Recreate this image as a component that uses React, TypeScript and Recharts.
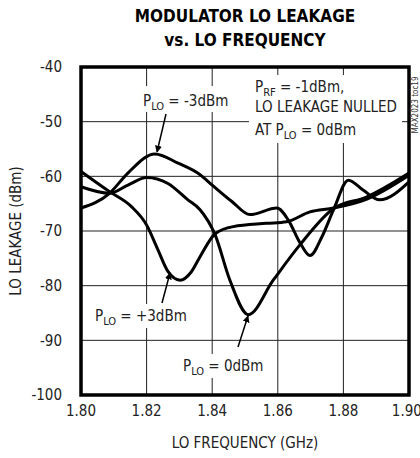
import React from 'react';
import { CartesianGrid, Line, LineChart, ReferenceArea, XAxis, YAxis } from 'recharts';

const xTicks = [1.8, 1.82, 1.84, 1.86, 1.88, 1.9];
const yTicks = [-100, -90, -80, -70, -60, -50, -40];

const minus3Freq = [1.8, 1.8087, 1.8143, 1.8225, 1.8296, 1.8363, 1.84, 1.846, 1.8515, 1.8597, 1.8632, 1.8668, 1.8698, 1.8735, 1.877, 1.8815, 1.886, 1.891, 1.9];
const minus3Leak = [-65.8, -63.1, -59.4, -55.9, -57.6, -59.7, -61.6, -64.6, -67, -65.8, -68, -72.2, -74.5, -71, -66.1, -60.7, -62.5, -64.3, -61];

const zeroFreq = [1.8, 1.8087, 1.8143, 1.82, 1.8265, 1.8326, 1.8363, 1.8409, 1.8454, 1.851, 1.8586, 1.8668, 1.877, 1.887, 1.9];
const zeroLeak = [-61.9, -63.1, -61.6, -60.2, -61.3, -64.3, -66.1, -70.7, -79, -85.3, -79, -72.5, -65.9, -63.8, -59.4];

const plus3Freq = [1.8, 1.8087, 1.8153, 1.82, 1.8235, 1.8265, 1.8302, 1.8336, 1.8363, 1.8409, 1.8464, 1.8566, 1.8627, 1.8698, 1.877, 1.887, 1.9];
const plus3Leak = [-59.1, -62.8, -65.5, -68.9, -73.5, -77.4, -79, -77.5, -74.7, -70.5, -69.2, -68.6, -68.3, -66.5, -65.8, -64.2, -59.8];

const toPoints = (xs: number[], ys: number[]) => xs.map((f, i) => ({ f, v: ys[i] }));

const font = '"Liberation Sans Narrow", "DejaVu Sans Condensed", "Liberation Sans", sans-serif';

function Sub({ main, sub, rest, x, y }: { main: string; sub: string; rest: string; x: number; y: number }) {
  return (
    <text x={x} y={y} fontSize={15} fill="#222" fontFamily={font}>
      {main}
      <tspan fontSize={11} dy={4}>{sub}</tspan>
      <tspan dy={-4}>{rest}</tspan>
    </text>
  );
}

export default function App() {
  return (
    <div style={{ position: 'absolute', left: 0, top: 0, width: 420, height: 458, background: '#fff', fontFamily: font }}>
      <LineChart width={420} height={458} margin={{ top: 67, right: 11, bottom: 0, left: 0 }}>
        <CartesianGrid stroke="#222" strokeWidth={1} />
        <XAxis
          dataKey="f"
          type="number"
          domain={[1.8, 1.9]}
          ticks={xTicks}
          height={63}
          allowDuplicatedCategory={false}
          tickFormatter={(v: number) => v.toFixed(2)}
          tickLine={false}
          axisLine={false}
          tickSize={0}
          tickMargin={10}
          tick={{ fontSize: 15, fill: '#222', fontFamily: font }}
          label={{ value: 'LO FREQUENCY (GHz)', position: 'insideBottom', offset: 10, fontSize: 15, fill: '#222', fontFamily: font }}
        />
        <YAxis
          type="number"
          domain={[-100, -40]}
          ticks={yTicks}
          width={81}
          tickLine={false}
          axisLine={false}
          tickSize={0}
          tickMargin={19}
          tick={{ fontSize: 15, fill: '#222', fontFamily: font }}
          label={{ value: 'LO LEAKAGE (dBm)', angle: -90, position: 'insideLeft', offset: 16, fontSize: 15, fill: '#222', fontFamily: font, style: { textAnchor: 'middle' } }}
        />
        <ReferenceArea x1={1.8} x2={1.9} y1={-100} y2={-40} fill="none" stroke="#000" strokeWidth={3.5} ifOverflow="visible" />
        <Line data={toPoints(minus3Freq, minus3Leak)} dataKey="v" type="monotone" stroke="#000" strokeWidth={3} dot={false} isAnimationActive={false} />
        <Line data={toPoints(zeroFreq, zeroLeak)} dataKey="v" type="monotone" stroke="#000" strokeWidth={3} dot={false} isAnimationActive={false} />
        <Line data={toPoints(plus3Freq, plus3Leak)} dataKey="v" type="monotone" stroke="#000" strokeWidth={3} dot={false} isAnimationActive={false} />
      </LineChart>
      <svg width={420} height={458} style={{ position: 'absolute', left: 0, top: 0, pointerEvents: 'none' }}>
        <defs>
          <marker id="arr" viewBox="0 0 10 10" refX="9" refY="5" markerWidth="7" markerHeight="9" orient="auto-start-reverse" markerUnits="userSpaceOnUse">
            <path d="M0,0 L10,5 L0,10 z" fill="#000" />
          </marker>
        </defs>
        <text x={245} y={22} textAnchor="middle" fontSize={17} fontWeight="bold" fontFamily={font} fill="#000">MODULATOR LO LEAKAGE</text>
        <text x={245} y={46} textAnchor="middle" fontSize={17} fontWeight="bold" fontFamily={font} fill="#000">vs. LO FREQUENCY</text>
        <text x={418} y={105} textAnchor="middle" fontSize={8} fill="#333" fontFamily={font} transform="rotate(-90 418 105)">MAX2023 toc19</text>

        <rect x={249} y={75} width={153} height={68} fill="#fff" />
        <Sub x={255} y={92} main="P" sub="RF" rest=" = -1dBm," />
        <text x={255} y={112} fontSize={15} fill="#222" fontFamily={font}>LO LEAKAGE NULLED</text>
        <Sub x={255} y={135} main="AT P" sub="LO" rest=" = 0dBm" />

        <rect x={140} y={86} width={90} height={26} fill="#fff" />
        <Sub x={143} y={106} main="P" sub="LO" rest=" = -3dBm" />
        <line x1={166} y1={114} x2={157} y2={152} stroke="#000" strokeWidth={1.5} markerEnd="url(#arr)" />

        <rect x={93} y={304} width={90} height={24} fill="#fff" />
        <Sub x={95} y={321} main="P" sub="LO" rest=" = +3dBm" />
        <line x1={162} y1={303} x2={170} y2={273} stroke="#000" strokeWidth={1.5} markerEnd="url(#arr)" />

        <rect x={180} y={354} width={82} height={24} fill="#fff" />
        <Sub x={183} y={371} main="P" sub="LO" rest=" = 0dBm" />
        <line x1={238} y1={347} x2={248} y2={316} stroke="#000" strokeWidth={1.5} markerEnd="url(#arr)" />
      </svg>
    </div>
  );
}
